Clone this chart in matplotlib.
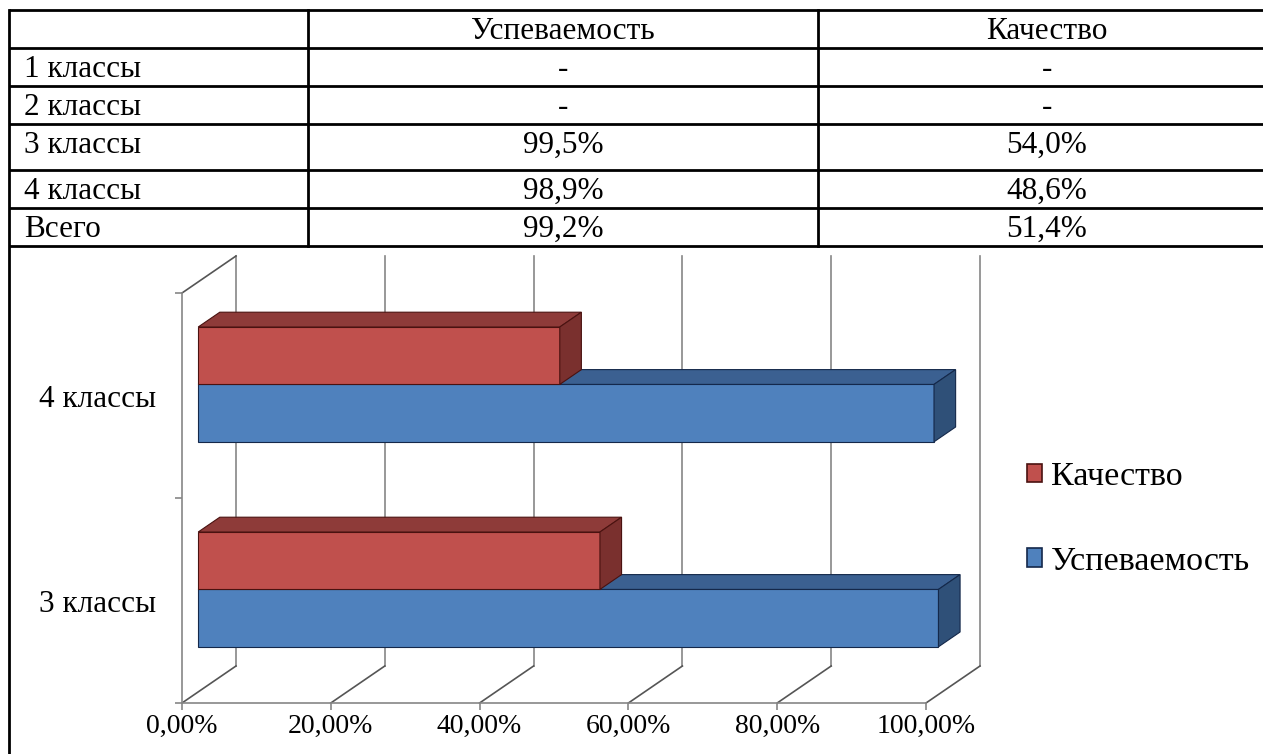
import matplotlib
matplotlib.use("Agg")
import matplotlib.pyplot as plt
from matplotlib.patches import Polygon, Patch

plt.rcParams['font.family'] = ['Liberation Serif', 'DejaVu Serif']

# table data
row_labels = ["1 классы", "2 классы", "3 классы", "4 классы", "Всего"]
col_headers = ["Успеваемость", "Качество"]
uspev_text = ["-", "-", "99,5%", "98,9%", "99,2%"]
kach_text = ["-", "-", "54,0%", "48,6%", "51,4%"]

# chart data
classes = ["3 классы", "4 классы"]
uspev = [0.995, 0.989]
kach = [0.540, 0.486]
x_ticks = [0.0, 0.2, 0.4, 0.6, 0.8, 1.0]
x_tick_labels = ["0,00%", "20,00%", "40,00%", "60,00%", "80,00%", "100,00%"]

W, H = 1263, 754
fig = plt.figure(figsize=(W / 100, H / 100), dpi=100)
fig.patch.set_facecolor("white")

# ---- table (pixel overlay) ----
tab = fig.add_axes([0, 0, 1, 1])
tab.set_xlim(0, W)
tab.set_ylim(H, 0)
tab.axis("off")

row_y = [10, 48, 86, 124, 170, 208, 246]
col_x = [9, 308, 818]
lw_tab = 2.0
for y in row_y:
    tab.plot([col_x[0], W + 5], [y, y], color="black", lw=lw_tab, solid_capstyle="butt")
tab.plot([col_x[0], col_x[0]], [row_y[0], H + 5], color="black", lw=lw_tab)
for x in col_x[1:]:
    tab.plot([x, x], [row_y[0], row_y[-1]], color="black", lw=lw_tab)

fs_tab = 22.5
centers = [563, 1047]
for j, h in enumerate(col_headers):
    tab.text(centers[j], row_y[0] + 29, h, ha="center", va="baseline", fontsize=fs_tab)
for i, lab in enumerate(row_labels):
    yb = row_y[i + 1] + 29
    tab.text(24, yb, lab, ha="left", va="baseline", fontsize=fs_tab)
    tab.text(centers[0], yb, uspev_text[i], ha="center", va="baseline", fontsize=fs_tab)
    tab.text(centers[1], yb, kach_text[i], ha="center", va="baseline", fontsize=fs_tab)

# ---- 3D-looking bar chart ----
x0, x1 = 182, 926
y_top, y_bot = 293, 703
ax = fig.add_axes([x0 / W, 1 - y_bot / H, (x1 - x0) / W, (y_bot - y_top) / H])
ax.set_xlim(0, 1)
ax.set_ylim(0, len(classes))
ax.set_facecolor("none")

DX = 54 / 744.0     # depth shift in value units
DY = 37 / 205.0     # depth shift in category units
Z0, Z1 = 0.3, 0.7   # bar depth range
BAR_H = 0.28
grid_c = "#868686"

for s in ["top", "right"]:
    ax.spines[s].set_visible(False)
for s in ["left", "bottom"]:
    ax.spines[s].set_color(grid_c)
    ax.spines[s].set_linewidth(1.2)

ax.set_xticks(x_ticks)
ax.set_xticklabels(x_tick_labels)
ax.tick_params(axis="x", direction="out", length=5, width=1.2, color=grid_c,
               labelsize=20, pad=3)
ax.set_yticks(range(len(classes) + 1))
ax.set_yticklabels([])
ax.tick_params(axis="y", which="major", direction="out", length=5, width=1.2, color=grid_c)
ax.set_yticks([i + 0.5 for i in range(len(classes))], minor=True)
ax.set_yticklabels(classes, minor=True)
ax.tick_params(axis="y", which="minor", length=0, labelsize=22.5, pad=18.5)

# back wall gridlines and floor diagonals
for v in x_ticks:
    ax.plot([v + DX, v + DX], [DY, len(classes) + DY], color=grid_c, lw=1.2,
            clip_on=False, zorder=1)
    ax.plot([v, v + DX], [0, DY], color="#555555", lw=1.2, clip_on=False, zorder=1)
ax.plot([0, DX], [len(classes), len(classes) + DY], color="#555555", lw=1.2,
        clip_on=False, zorder=1)


def pt(x, y, z):
    return (x + z * DX, y + z * DY)


def box(y0, v, front, top, side, edge):
    y1 = y0 + BAR_H
    faces = [
        ([pt(0, y0, Z0), pt(v, y0, Z0), pt(v, y1, Z0), pt(0, y1, Z0)], front),
        ([pt(0, y1, Z0), pt(v, y1, Z0), pt(v, y1, Z1), pt(0, y1, Z1)], top),
        ([pt(v, y0, Z0), pt(v, y0, Z1), pt(v, y1, Z1), pt(v, y1, Z0)], side),
    ]
    for verts, col in faces:
        ax.add_patch(Polygon(verts, closed=True, facecolor=col, edgecolor=edge,
                             lw=0.8, clip_on=False, zorder=3))


blue = ("#4F81BD", "#3B6091", "#2F5078", "#14284A")
red = ("#C0504D", "#8E3B39", "#7A302E", "#4A1210")
for i in range(len(classes)):
    yc = i + 0.5
    box(yc - BAR_H, uspev[i], *blue)
    box(yc, kach[i], *red)

handles = [Patch(facecolor=red[0], edgecolor=red[3], lw=1.2),
           Patch(facecolor=blue[0], edgecolor=blue[3], lw=1.2)]
fig.legend(handles, ["Качество", "Успеваемость"], loc="center left",
           bbox_to_anchor=(1027 / W, 1 - 519 / H), frameon=False, fontsize=24.5,
           handlelength=0.45, handleheight=0.45, handletextpad=0.25,
           labelspacing=1.6, borderpad=0, borderaxespad=0)

fig.savefig("out.png", dpi=100, facecolor="white")
